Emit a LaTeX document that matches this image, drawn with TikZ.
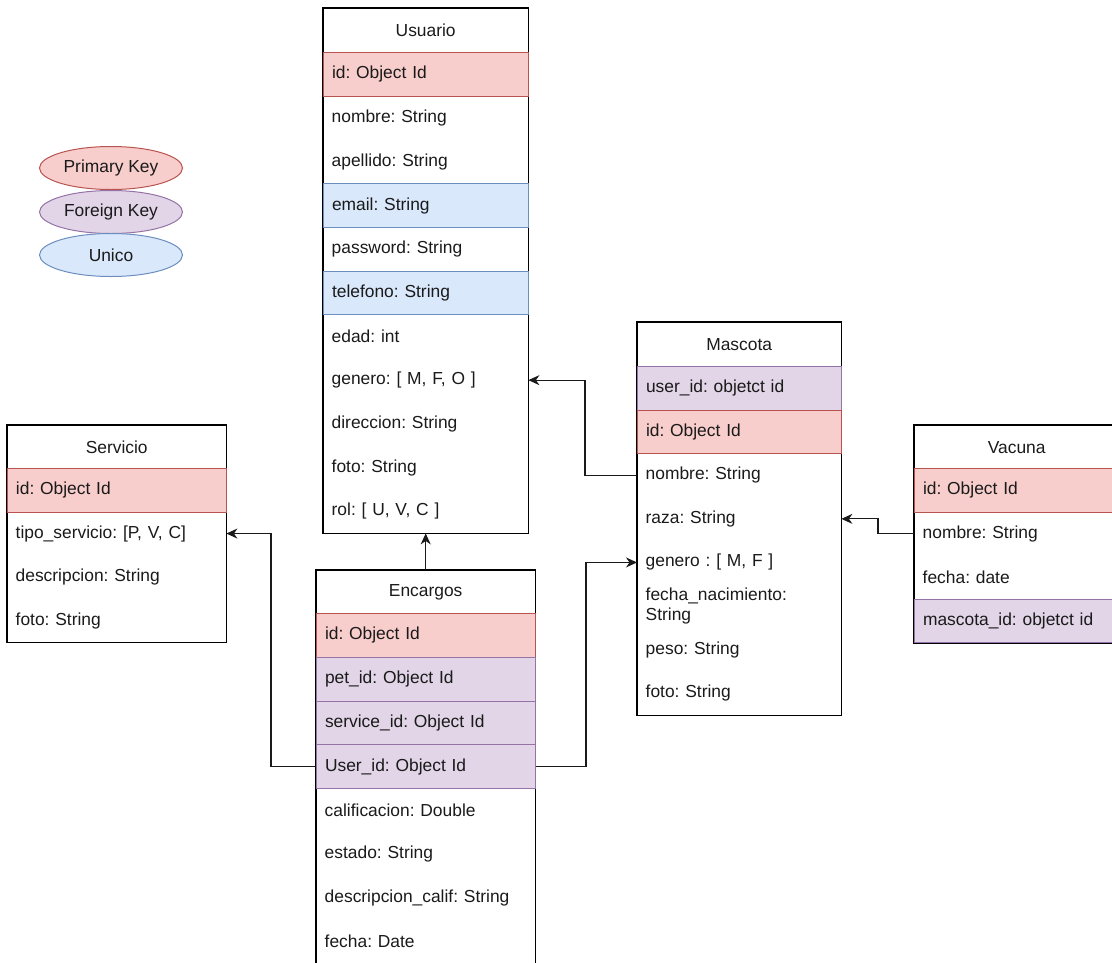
\documentclass[tikz,border=0pt]{standalone}
\usepackage{fontspec}
\setmainfont{Liberation Sans}
\usetikzlibrary{arrows.meta,shapes.geometric,backgrounds}

\definecolor{pkfill}{HTML}{F8CECC}
\definecolor{pkline}{HTML}{B85450}
\definecolor{fkfill}{HTML}{E1D5E7}
\definecolor{fkline}{HTML}{9673A6}
\definecolor{uqfill}{HTML}{DAE8FC}
\definecolor{uqline}{HTML}{6C8EBF}
\definecolor{ink}{HTML}{1A1A1A}

\frenchspacing
\newcommand{\erfont}{\fontsize{17.4}{20}\selectfont}

\tikzset{
  every node/.style={font=\erfont, text=ink},
  tbltitle/.style={anchor=north west, minimum height=44pt, inner sep=0pt},
  row/.style={anchor=north west, minimum height=43.7pt, inner ysep=0pt,
    inner xsep=8.5pt, align=left, text width=#1},
  pk/.style={draw=pkline, fill=pkfill, line width=1pt},
  fk/.style={draw=fkline, fill=fkfill, line width=1pt},
  uq/.style={draw=uqline, fill=uqfill, line width=1pt},
  frame/.style={draw=black, line width=1.2pt},
  conn/.style={draw=ink, line width=1.1pt, -{Stealth[length=11pt,width=10pt,inset=3.5pt]}},
  legend/.style={ellipse, minimum width=143pt, minimum height=43pt, inner sep=0pt}
}

\begin{document}
\begin{tikzpicture}[x=1pt, y=-1pt]
  \useasboundingbox (0,0) rectangle (1112,962);
  \clip (0,0) rectangle (1112,962);

  % legend
  \node[legend, pk] (leg-pk) at (111,168) {Primary Key};
  \node[legend, fk] (leg-fk) at (111,212) {Foreign Key};
  \node[legend, uq] (leg-uq) at (111,255) {Unico};

  % Usuario
  \node[tbltitle, minimum width=205pt] (usu-title) at (323,8) {Usuario};
  \node[row=188pt, pk] (usu-id) at (323,52) {id: Object Id};
  \node[row=188pt] (usu-nombre) at (323,95.7) {nombre: String};
  \node[row=188pt] (usu-apellido) at (323,139.5) {apellido: String};
  \node[row=188pt, uq] (usu-email) at (323,183.2) {email: String};
  \node[row=188pt] (usu-password) at (323,226.9) {password: String};
  \node[row=188pt, uq] (usu-telefono) at (323,270.7) {telefono: String};
  \node[row=188pt] (usu-edad) at (323,314.4) {edad: int};
  \node[row=188pt] (usu-genero) at (323,358.1) {genero: [ M, F, O ]};
  \node[row=188pt] (usu-direccion) at (323,401.8) {direccion: String};
  \node[row=188pt] (usu-foto) at (323,445.6) {foto: String};
  \node[row=188pt] (usu-rol) at (323,489.3) {rol: [ U, V, C ]};

  % Servicio
  \node[tbltitle, minimum width=219pt] (ser-title) at (7,425) {Servicio};
  \node[row=202pt, pk] (ser-id) at (7,468) {id: Object Id};
  \node[row=202pt] (ser-tipo) at (7,511.5) {tipo\_servicio: [P, V, C]};
  \node[row=202pt] (ser-desc) at (7,555) {descripcion: String};
  \node[row=202pt] (ser-foto) at (7,598.5) {foto: String};

  % Encargos
  \node[tbltitle, minimum width=219pt] (enc-title) at (316,570) {Encargos};
  \node[row=202pt, pk] (enc-id) at (316,613) {id: Object Id};
  \node[row=202pt, fk] (enc-pet) at (316,656.8) {pet\_id: Object Id};
  \node[row=202pt, fk] (enc-service) at (316,700.6) {service\_id: Object Id};
  \node[row=202pt, fk] (enc-user) at (316,744.4) {User\_id: Object Id};
  \node[row=202pt] (enc-calif) at (316,788.2) {calificacion: Double};
  \node[row=202pt] (enc-estado) at (316,832) {estado: String};
  \node[row=202pt] (enc-desc) at (316,875.8) {descripcion\_calif: String};
  \node[row=202pt] (enc-fecha) at (316,919.6) {fecha: Date};

  % Mascota
  \node[tbltitle, minimum width=204pt] (mas-title) at (637,322) {Mascota};
  \node[row=187pt, fk] (mas-user) at (637,366) {user\_id: objetct id};
  \node[row=187pt, pk] (mas-id) at (637,409.6) {id: Object Id};
  \node[row=187pt] (mas-nombre) at (637,453.2) {nombre: String};
  \node[row=187pt] (mas-raza) at (637,496.8) {raza: String};
  \node[row=187pt] (mas-genero) at (637,540.4) {genero : [ M, F ]};
  \node[row=187pt] (mas-nac) at (637,584) {fecha\_nacimiento:\\String};
  \node[row=187pt] (mas-peso) at (637,627.6) {peso: String};
  \node[row=187pt] (mas-foto) at (637,671.2) {foto: String};

  % Vacuna
  \node[tbltitle, minimum width=205pt] (vac-title) at (914,425) {Vacuna};
  \node[row=188pt, pk] (vac-id) at (914,468) {id: Object Id};
  \node[row=188pt] (vac-nombre) at (914,511.5) {nombre: String};
  \node[row=188pt] (vac-fecha) at (914,555) {fecha: date};
  \node[row=188pt, fk] (vac-mascota) at (914,598.5) {mascota\_id: objetct id};

  % table frames
  \begin{pgfonlayer}{background}
    \draw[frame] (usu-title.north west) rectangle (usu-rol.south east);
    \draw[frame] (usu-title.south west) -- (usu-title.south east);
    \draw[frame] (ser-title.north west) rectangle (ser-foto.south east);
    \draw[frame] (ser-title.south west) -- (ser-title.south east);
    \draw[frame] (enc-title.north west) rectangle (enc-fecha.south east);
    \draw[frame] (enc-title.south west) -- (enc-title.south east);
    \draw[frame] (mas-title.north west) rectangle (mas-foto.south east);
    \draw[frame] (mas-title.south west) -- (mas-title.south east);
    \draw[frame] (vac-title.north west) rectangle (vac-mascota.south east);
    \draw[frame] (vac-title.south west) -- (vac-title.south east);
  \end{pgfonlayer}

  % relations
  \draw[conn] (mas-nombre.west) -- ++(-52,0) |- (usu-genero.east);
  \draw[conn] (vac-nombre.west) -- ++(-36,0) |- (mas-raza.east);
  \draw[conn] (enc-title.north) -- (enc-title.north |- usu-rol.south);
  \draw[conn] (enc-user.west) -- ++(-45,0) |- (ser-tipo.east);
  \draw[conn] (enc-user.east) -- ++(50,0) |- (mas-genero.west);
\end{tikzpicture}
\end{document}
